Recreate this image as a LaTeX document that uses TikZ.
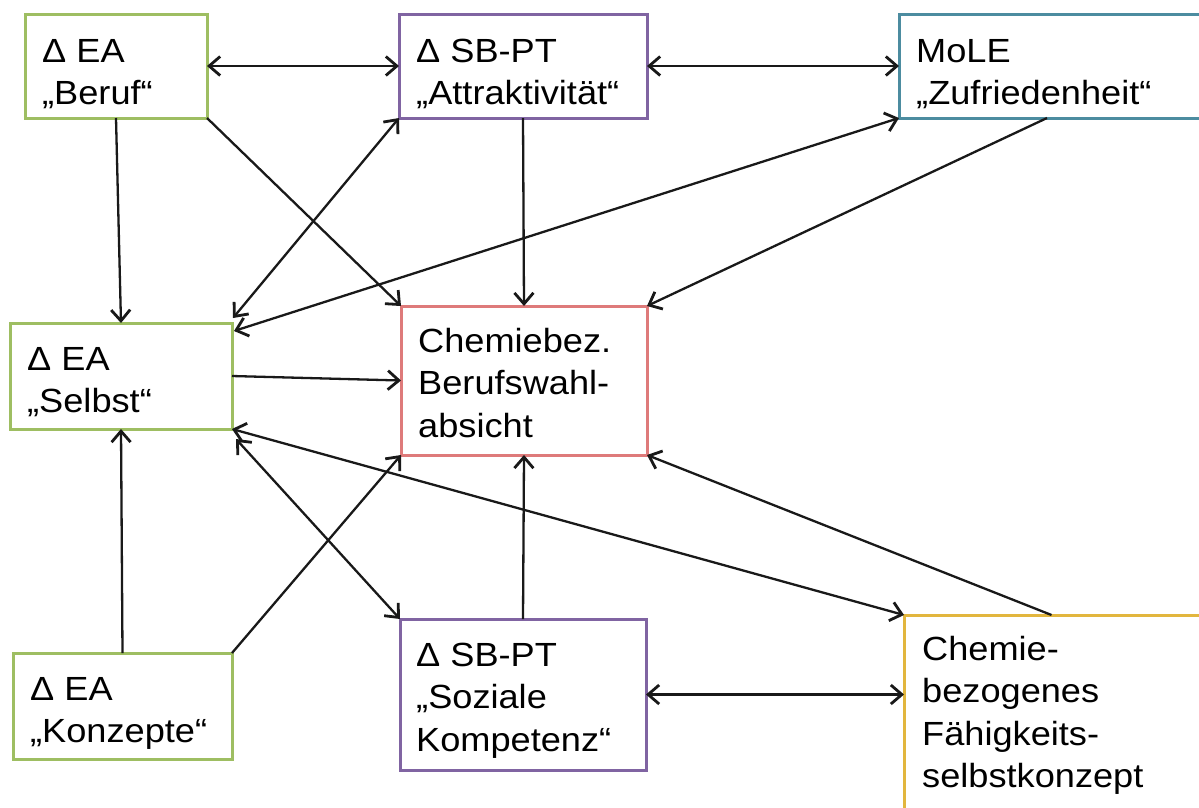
\documentclass[tikz,border=0pt]{standalone}
\usepackage{fontspec}
\setmainfont[FakeStretch=1.08]{Liberation Sans}
\usetikzlibrary{arrows.meta,calc}

\definecolor{boxgreen}{RGB}{158,190,98}
\definecolor{boxpurple}{RGB}{128,100,162}
\definecolor{boxteal}{RGB}{76,140,160}
\definecolor{boxred}{RGB}{222,122,122}
\definecolor{boxgold}{RGB}{226,182,62}

\begin{document}
\begin{tikzpicture}[x=1pt,y=-1pt,
  box/.style={draw=#1, line width=3pt, rectangle, inner sep=0pt, outer sep=0pt},
  lbl/.style={anchor=north west, inner sep=0pt, align=left,
    font=\fontsize{33.5}{42.5}\selectfont},
  conn/.style={line width=2.3pt, black!90},
  arr/.style={conn, -{Straight Barb[length=11pt,width=19pt,line width=2.8pt]}},
  darr/.style={conn, {Straight Barb[length=11pt,width=19pt,line width=2.8pt]}-{Straight Barb[length=11pt,width=19pt,line width=2.8pt]}}
]
\useasboundingbox (0,0) rectangle (1199,807);

% boxes
\node[box=boxgreen,  minimum width=182pt, minimum height=104pt] (beruf)  at (116,66) {};
\node[box=boxpurple, minimum width=248pt, minimum height=104pt] (attr)   at (523,66) {};
\node[box=boxteal,   minimum width=306pt, minimum height=104pt] (mole)   at (1052,66) {};
\node[box=boxgreen,  minimum width=222pt, minimum height=106pt] (selbst) at (121,376) {};
\node[box=boxred,    minimum width=246pt, minimum height=149pt] (chem)   at (524,380.5) {};
\node[box=boxgreen,  minimum width=219pt, minimum height=106pt] (konz)   at (122.5,706) {};
\node[box=boxpurple, minimum width=246pt, minimum height=151pt] (soz)    at (523,694.5) {};
\node[box=boxgold,   minimum width=301pt, minimum height=215pt] (fah)    at (1054.5,722.5) {};

% labels (first baseline = y + 29.75)
\node[lbl] (t-beruf)  at (42,32.25)   {\strut Δ EA\\„Beruf“};
\node[lbl] (t-attr)   at (416,32.25)  {\strut Δ SB-PT\\„Attraktivität“};
\node[lbl] (t-mole)   at (916,32.25)  {\strut MoLE\\„Zufriedenheit“};
\node[lbl] (t-selbst) at (27,340.25)  {\strut Δ EA\\„Selbst“};
\node[lbl] (t-chem)   at (418,322.25) {\strut Chemiebez.\\Berufswahl-\\absicht};
\node[lbl] (t-konz)   at (30,670.25)  {\strut Δ EA\\„Konzepte“};
\node[lbl] (t-soz)    at (416,636.25) {\strut Δ SB-PT\\„Soziale\\Kompetenz“};
\node[lbl] (t-fah)    at (922,630.25) {\strut Chemie-\\bezogenes\\Fähigkeits-\\selbstkonzept};

% connectors
\draw[darr] (beruf.east) -- (attr.west);
\draw[darr] (attr.east) -- (mole.west);
\draw[arr] (beruf.south) -- (selbst.north);
\draw[arr] (beruf.south east) -- (chem.north west);
\draw[darr] (attr.south west) -- ($(selbst.north east)+(1,-5)$);
\draw[arr] (attr.south) -- (chem.north);
\draw[darr] (mole.south west) -- ($(selbst.north east)+(2,8)$);
\draw[arr] ($(mole.south)+(-5,0)$) -- (chem.north east);
\draw[arr] (selbst.east) -- (chem.west);
\draw[arr] (konz.north) -- (selbst.south);
\draw[arr] (konz.north east) -- (chem.south west);
\draw[darr] ($(selbst.south east)+(4,10)$) -- (soz.north west);
\draw[darr] (selbst.south east) -- (fah.north west);
\draw[arr] (soz.north) -- (chem.south);
\draw[arr] ($(fah.north)+(-3,0)$) -- (chem.south east);
\draw[darr] (soz.east) -- (soz.east -| fah.west);
\end{tikzpicture}
\end{document}
